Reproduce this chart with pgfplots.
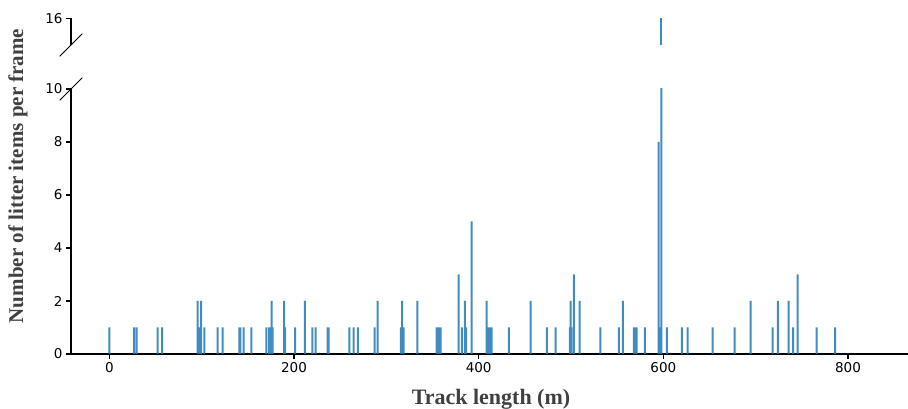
\documentclass[border=0pt]{standalone}
\usepackage{pgfplots}
\pgfplotsset{compat=1.18}
\usepackage{fontspec}
\setmainfont{DejaVu Sans}
\newfontfamily\labfont{Liberation Serif}
\definecolor{barblue}{HTML}{1F77B4}
\definecolor{labgray}{HTML}{404040}

% litter items per frame along the track
\pgfplotstableread{
x y
0 1
27 1
29.7 1
52.4 1
57.1 1
95.7 2
98.2 1
99.3 2
102.9 1
117.4 1
122.8 1
140.8 1
141.9 1
145.5 1
153.8 1
170 1
173 1
174.8 1
175.9 2
177 1
189.2 2
190.3 1
201.1 1
211.9 2
219.8 1
223.5 1
236.5 1
237.6 1
259.9 1
264.6 1
269.3 1
287.4 1
290.6 2
315.9 1
317 2
318.8 1
333.5 2
354.5 1
356.3 1
358.9 1
378.2 3
381.8 1
385.2 2
386.3 1
392.4 5
408.6 2
409.3 1
410.4 1
412.5 1
414 1
432.8 1
456.3 2
474 1
483.4 1
498.9 1
499.6 2
500.3 1
503.2 3
509.3 2
531.7 1
551.9 1
556.3 2
568.2 1
569.5 1
571.1 1
580.1 1
594.8 8
596 1
597.8 16
603.8 1
620.1 1
626.3 1
653.4 1
677.2 1
694.5 2
718.3 1
724.1 2
735.6 2
740.6 1
745.4 3
765.9 1
786.1 1
}\litter

\pgfplotsset{
  brk/.style={
    scale only axis,
    width=837pt,
    xmin=-41.5, xmax=865,
    tick align=outside,
    major tick length=5pt,
    every tick/.style={black, line width=1.1pt},
    axis line style={line width=1.1pt},
    tick label style={font=\fontsize{13.5}{15}\selectfont},
    /pgf/number format/assume math mode=true,
    clip mode=individual,
  },
  barstyle/.style={ybar, bar width=2pt, bar shift=0pt,
    fill=barblue, fill opacity=0.85, draw=none},
}

\begin{document}
\begin{tikzpicture}
\useasboundingbox (0,0) rectangle (908pt,409pt);

% lower part 0..10
\begin{axis}[brk,
  at={(71pt,55pt)}, anchor=south west,
  height=265pt,
  ymin=0, ymax=10,
  axis x line*=bottom, axis y line*=left,
  xtick={0,200,400,600,800},
  ytick={0,2,4,6,8,10},
]
\addplot[barstyle] table[x=x, y=y] {\litter};
\draw[line width=1pt] (rel axis cs:0,1) ++(-11.3pt,-11.3pt) -- ++(22.6pt,22.6pt);
\end{axis}

% upper part 15..16
\begin{axis}[brk,
  at={(71pt,364pt)}, anchor=south west,
  height=26.5pt,
  ymin=15, ymax=16,
  axis x line=none, axis y line*=left,
  xtick=\empty,
  ytick={16},
]
\addplot[barstyle, restrict y to domain=15:20] table[x=x, y=y] {\litter};
\draw[line width=1pt] (rel axis cs:0,0) ++(-11.3pt,-11.3pt) -- ++(22.6pt,22.6pt);
\end{axis}

\node[font=\labfont\bfseries\fontsize{22}{26}\selectfont, text=labgray]
  at (491pt,10pt) {Track length (m)};
\node[font=\labfont\bfseries\fontsize{21}{25}\selectfont, text=labgray, rotate=90]
  at (18pt,233pt) {Number of litter items per frame};
\end{tikzpicture}
\end{document}
